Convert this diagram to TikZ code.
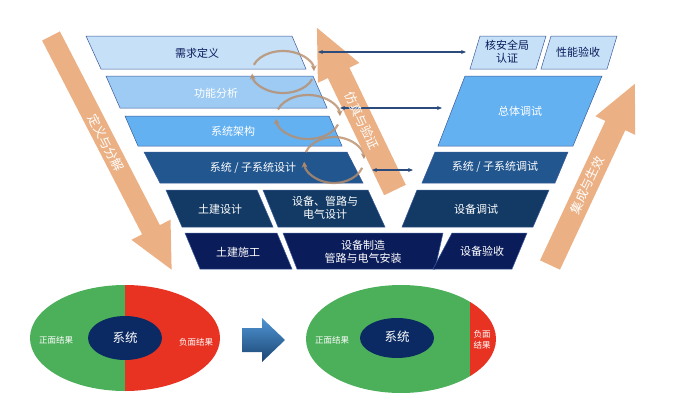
\documentclass[tikz,border=0pt]{standalone}
\usepackage{fontspec}
\setmainfont{Noto Sans CJK SC}
\usetikzlibrary{arrows.meta}

\definecolor{rowA}{HTML}{C6E0F8}
\definecolor{rowB}{HTML}{9DCBF3}
\definecolor{rowC}{HTML}{64B1F2}
\definecolor{rowD}{HTML}{21568F}
\definecolor{rowE}{HTML}{123A64}
\definecolor{rowF}{HTML}{0B1C5A}
\definecolor{edge}{HTML}{3A5A9A}
\definecolor{peach}{HTML}{EBB185}
\definecolor{loop}{HTML}{B98D6A}
\definecolor{link}{HTML}{2A4B7C}
\definecolor{good}{HTML}{4CAF5A}
\definecolor{bad}{HTML}{E83323}
\definecolor{core}{HTML}{0B2A63}

\begin{document}
\begin{tikzpicture}
  [x=1pt,y=-1pt,
   para/.style={draw=edge,line width=0.5pt},
   lbl/.style={font=\fontsize{11}{13}\selectfont,align=center,text=white},
   dlbl/.style={lbl,text=rowF},
   small/.style={lbl,font=\fontsize{8.5}{10.5}\selectfont},
   along/.style={lbl,font=\fontsize{12.5}{14}\selectfont},
   big/.style={fill=peach},
   cyc/.style={draw=loop,line width=2.2pt,opacity=0.8,-{Stealth[length=6pt,width=6pt]}},
   dbl/.style={draw=link,line width=1.1pt,{Stealth[length=5pt,width=4pt]}-{Stealth[length=5pt,width=4pt]}}]
  \useasboundingbox (0,0) rectangle (673,418);

  % left side of the V
  \draw[para,fill=rowA] (86,36) -- (292,36) -- (306,69) -- (101,69) -- cycle;
  \node[dlbl] (req) at (197,53) {需求定义};
  \draw[para,fill=rowB] (106,76) -- (313,76) -- (327,108) -- (120,108) -- cycle;
  \node[lbl] (func) at (216,93) {功能分析};
  \draw[para,fill=rowC] (125,116) -- (329,116) -- (342,146) -- (138,146) -- cycle;
  \node[lbl] (arch) at (233,131) {系统架构};
  \draw[para,fill=rowD] (144,152) -- (347,152) -- (363,183) -- (160,183) -- cycle;
  \node[lbl] (sysd) at (253,168) {系统 / 子系统设计};
  \draw[para,fill=rowE] (166,190) -- (257,190) -- (273,227) -- (182,227) -- cycle;
  \node[lbl] (civd) at (220,209) {土建设计};
  \draw[para,fill=rowE] (263,190) -- (368,190) -- (385,227) -- (278,227) -- cycle;
  \node[lbl] (eqd) at (325,208) {设备、管路与\\电气设计};
  \draw[para,fill=rowF] (185,233) -- (277,233) -- (292,269) -- (200,269) -- cycle;
  \node[lbl] (civc) at (238,252) {土建施工};
  \draw[para,fill=rowF] (283,233) -- (443,233) -- (435,269) -- (297,269) -- cycle;
  \node[lbl] (eqm) at (363,252) {设备制造\\管路与电气安装};

  % right side of the V
  \draw[para,fill=rowF] (452,233) -- (527,233) -- (512,269) -- (433,269) -- cycle;
  \node[lbl] (eqa) at (482,251) {设备验收};
  \draw[para,fill=rowE] (417,190) -- (549,190) -- (533,227) -- (402,227) -- cycle;
  \node[lbl] (eqt) at (476,209) {设备调试};
  \draw[para,fill=rowD] (435,152) -- (568,152) -- (555,183) -- (422,183) -- cycle;
  \node[lbl] (syst) at (495,167) {系统 / 子系统调试};
  \draw[para,fill=rowC] (465,76) -- (602,76) -- (573,146) -- (438,146) -- cycle;
  \node[lbl] (allt) at (520,111) {总体调试};
  \draw[para,fill=rowA] (480,36) -- (546,36) -- (536,69) -- (470,69) -- cycle;
  \node[dlbl] (nsa) at (507,52) {核安全局\\认证};
  \draw[para,fill=rowA] (551,36) -- (617,36) -- (607,69) -- (541,69) -- cycle;
  \node[dlbl] (perf) at (578,52) {性能验收};

  % iteration loops
  \draw[cyc] (283,72) ++(200:31 and 21) arc[start angle=200,end angle=358,x radius=31,y radius=21];
  \draw[cyc] (283,72) ++(20:31 and 21) arc[start angle=20,end angle=176,x radius=31,y radius=21];
  \draw[cyc] (308,117) ++(200:32 and 22) arc[start angle=200,end angle=358,x radius=32,y radius=22];
  \draw[cyc] (308,117) ++(20:32 and 22) arc[start angle=20,end angle=176,x radius=32,y radius=22];
  \draw[cyc] (334,160) ++(200:30 and 23) arc[start angle=200,end angle=358,x radius=30,y radius=23];
  \draw[cyc] (334,160) ++(20:30 and 23) arc[start angle=20,end angle=176,x radius=30,y radius=23];

  % big arrows
  \begin{scope}[shift={(51,36)},rotate=-62.7]
    \fill[big] (0,-10) -- (218,-10) -- (218,-22) -- (263,0) -- (218,22) -- (218,10) -- (0,10) -- cycle;
  \end{scope}
  \begin{scope}[shift={(395,190)},rotate=115.7]
    \fill[big] (0,-12) -- (130,-12) -- (130,-23) -- (180,0) -- (130,23) -- (130,12) -- (0,12) -- cycle;
  \end{scope}
  \begin{scope}[shift={(550,265)},rotate=64.9]
    \fill[big] (0,-11) -- (154,-11) -- (154,-22) -- (200,0) -- (154,22) -- (154,11) -- (0,11) -- cycle;
  \end{scope}

  % links between the two sides
  \coordinate (l1) at (318,52);
  \coordinate (r1) at (466,52);
  \coordinate (l2) at (340,108);
  \coordinate (r2) at (442,108);
  \coordinate (l3) at (372,170);
  \coordinate (r3) at (413,170);
  \draw[dbl] (l1) -- (r1);
  \draw[dbl] (l2) -- (r2);
  \draw[dbl] (l3) -- (r3);

  \node[along,rotate=-62.7] (defn) at (106,143) {定义与分解};
  \node[along,rotate=-64.3] (simu) at (362,121) {仿真与验证};
  \node[along,rotate=64.9] (integ) at (587,185) {集成与生效};

  % before
  \begin{scope}
    \clip (125,338) ellipse [x radius=95,y radius=53];
    \fill[good] (30,285) rectangle (125,392);
    \fill[bad] (125,285) rectangle (220,392);
  \end{scope}
  \fill[core] (125,338) ellipse [x radius=37,y radius=22];
  \node[lbl,font=\fontsize{12.5}{14}\selectfont] (sysA) at (125,338) {系统};
  \node[small] (posA) at (56,340) {正面结果};
  \node[small] (negA) at (196,342) {负面结果};

  % shift arrow
  \shade[top color=rowC!70!rowD,bottom color=rowD!80!black] (242,328) -- (262,328) -- (262,318) -- (285,340) -- (262,362) -- (262,352) -- (242,352) -- cycle;

  % after
  \begin{scope}
    \clip (401,339) ellipse [x radius=95,y radius=54];
    \fill[good] (306,285) rectangle (470,393);
    \fill[bad] (470,285) rectangle (496,393);
  \end{scope}
  \fill[core] (397,338) ellipse [x radius=37,y radius=20];
  \node[lbl,font=\fontsize{12.5}{14}\selectfont] (sysB) at (397,337) {系统};
  \node[small] (posB) at (332,340) {正面结果};
  \node[small] (negB) at (482,340) {负面\\结果};
\end{tikzpicture}
\end{document}
